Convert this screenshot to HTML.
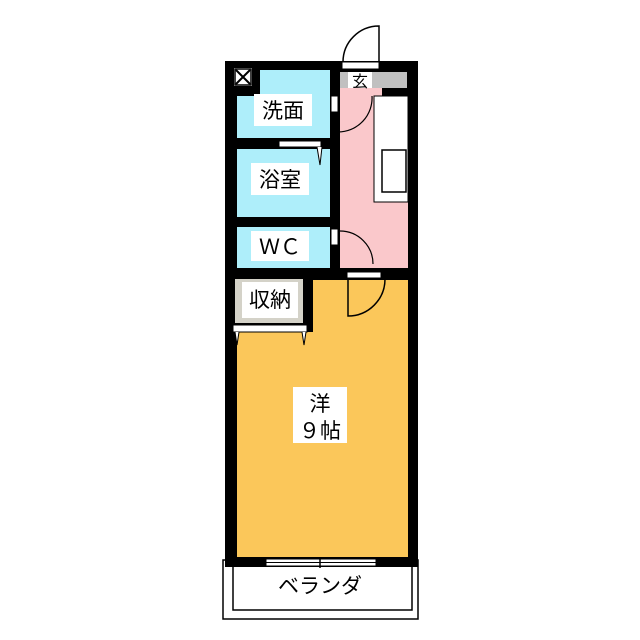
<!DOCTYPE html>
<html><head><meta charset="utf-8"><style>
html,body{margin:0;padding:0;background:#fff;}
svg{display:block}
text{font-family:"Liberation Sans","Noto Sans CJK JP",sans-serif;font-size:21px;fill:#000;}
</style></head><body>
<svg width="640" height="640" viewBox="0 0 640 640" xmlns="http://www.w3.org/2000/svg">
<rect x="223" y="560" width="195" height="59" fill="#fff" stroke="#000" stroke-width="1.5"/>
<path d="M233 567 V610 H412 V567" fill="none" stroke="#000" stroke-width="1.5"/>
<rect x="225" y="61" width="193" height="506" fill="#000"/>
<rect x="260" y="70" width="70" height="26" fill="#aeeefa"/>
<rect x="237" y="96" width="93" height="42" fill="#aeeefa"/>
<rect x="237" y="149" width="93" height="68" fill="#aeeefa"/>
<rect x="237" y="227" width="93" height="41" fill="#aeeefa"/>
<rect x="234" y="68" width="18" height="18" fill="#fff"/>
<path d="M236 70 L250 84 M250 70 L236 84" stroke="#000" stroke-width="2"/>
<rect x="235" y="69" width="16" height="16" fill="none" stroke="#000" stroke-width="1.5"/>
<rect x="340" y="88" width="68" height="180" fill="#fac8cb"/>
<rect x="382" y="88" width="26" height="8" fill="#000"/>
<rect x="340" y="72" width="67" height="16" fill="#c0c0c0"/>
<rect x="348" y="72" width="24" height="16" fill="#fff"/>
<text x="360" y="87" text-anchor="middle" style="font-size:16px">玄</text>
<rect x="342" y="62" width="37" height="7" fill="#fff" stroke="#000" stroke-width="1"/>
<path d="M379 62 V26 A36 36 0 0 0 343 62" fill="none" stroke="#000" stroke-width="1.5"/>
<rect x="374" y="96" width="34" height="106" fill="#fff" stroke="#000" stroke-width="1"/>
<rect x="382" y="150" width="24" height="42" fill="#fff" stroke="#000" stroke-width="1.5"/>
<rect x="331" y="96" width="7" height="16" fill="#fff" stroke="#000" stroke-width="1"/>
<path d="M338 132 A34 34 0 0 0 372 96" fill="none" stroke="#000" stroke-width="1.2"/>
<rect x="331" y="229" width="7" height="16" fill="#fff" stroke="#000" stroke-width="1"/>
<path d="M340 231 A33 33 0 0 1 373 264" fill="none" stroke="#000" stroke-width="1.2"/>
<rect x="279" y="141" width="42" height="6" fill="#fff" stroke="#000" stroke-width="1"/>
<path d="M317 147 L320 165 L322 147" fill="#fff" stroke="#000" stroke-width="1"/>
<rect x="313" y="280" width="95" height="55" fill="#fbc75a"/>
<rect x="237" y="332" width="171" height="225" fill="#fbc75a"/>
<rect x="235" y="279" width="68" height="44" fill="#d4d2c8"/>
<rect x="242" y="282" width="56" height="36" fill="#fff"/>
<rect x="233" y="325" width="74" height="7" fill="#fff" stroke="#000" stroke-width="1"/>
<path d="M235 332 L237 345 L239 332 M302 332 L304 345 L306 332" fill="#fff" stroke="#000" stroke-width="1"/>
<rect x="347" y="272" width="34" height="6" fill="#fff" stroke="#000" stroke-width="1"/>
<path d="M348 278 V316 A37 37 0 0 0 385 279" fill="none" stroke="#000" stroke-width="1.5"/>
<rect x="266" y="559" width="110" height="7" fill="#fff" stroke="#000" stroke-width="1"/>
<line x1="266" y1="562.5" x2="376" y2="562.5" stroke="#000" stroke-width="1"/>
<line x1="320" y1="557" x2="320" y2="568" stroke="#000" stroke-width="1.5"/>
<rect x="254" y="94" width="58" height="32" fill="#fff"/>
<text x="283" y="118" text-anchor="middle">洗面</text>
<rect x="251" y="163" width="58" height="32" fill="#fff"/>
<text x="280" y="187" text-anchor="middle">浴室</text>
<rect x="251" y="231" width="58" height="30" fill="#fff"/>
<text x="280" y="254" text-anchor="middle">ＷＣ</text>
<text x="270" y="307" text-anchor="middle">収納</text>
<rect x="293" y="387" width="54" height="56" fill="#fff"/>
<text x="320" y="411" text-anchor="middle">洋</text>
<text x="320" y="438" text-anchor="middle">９帖</text>
<text x="320" y="593" text-anchor="middle">ベランダ</text>
</svg>
</body></html>
